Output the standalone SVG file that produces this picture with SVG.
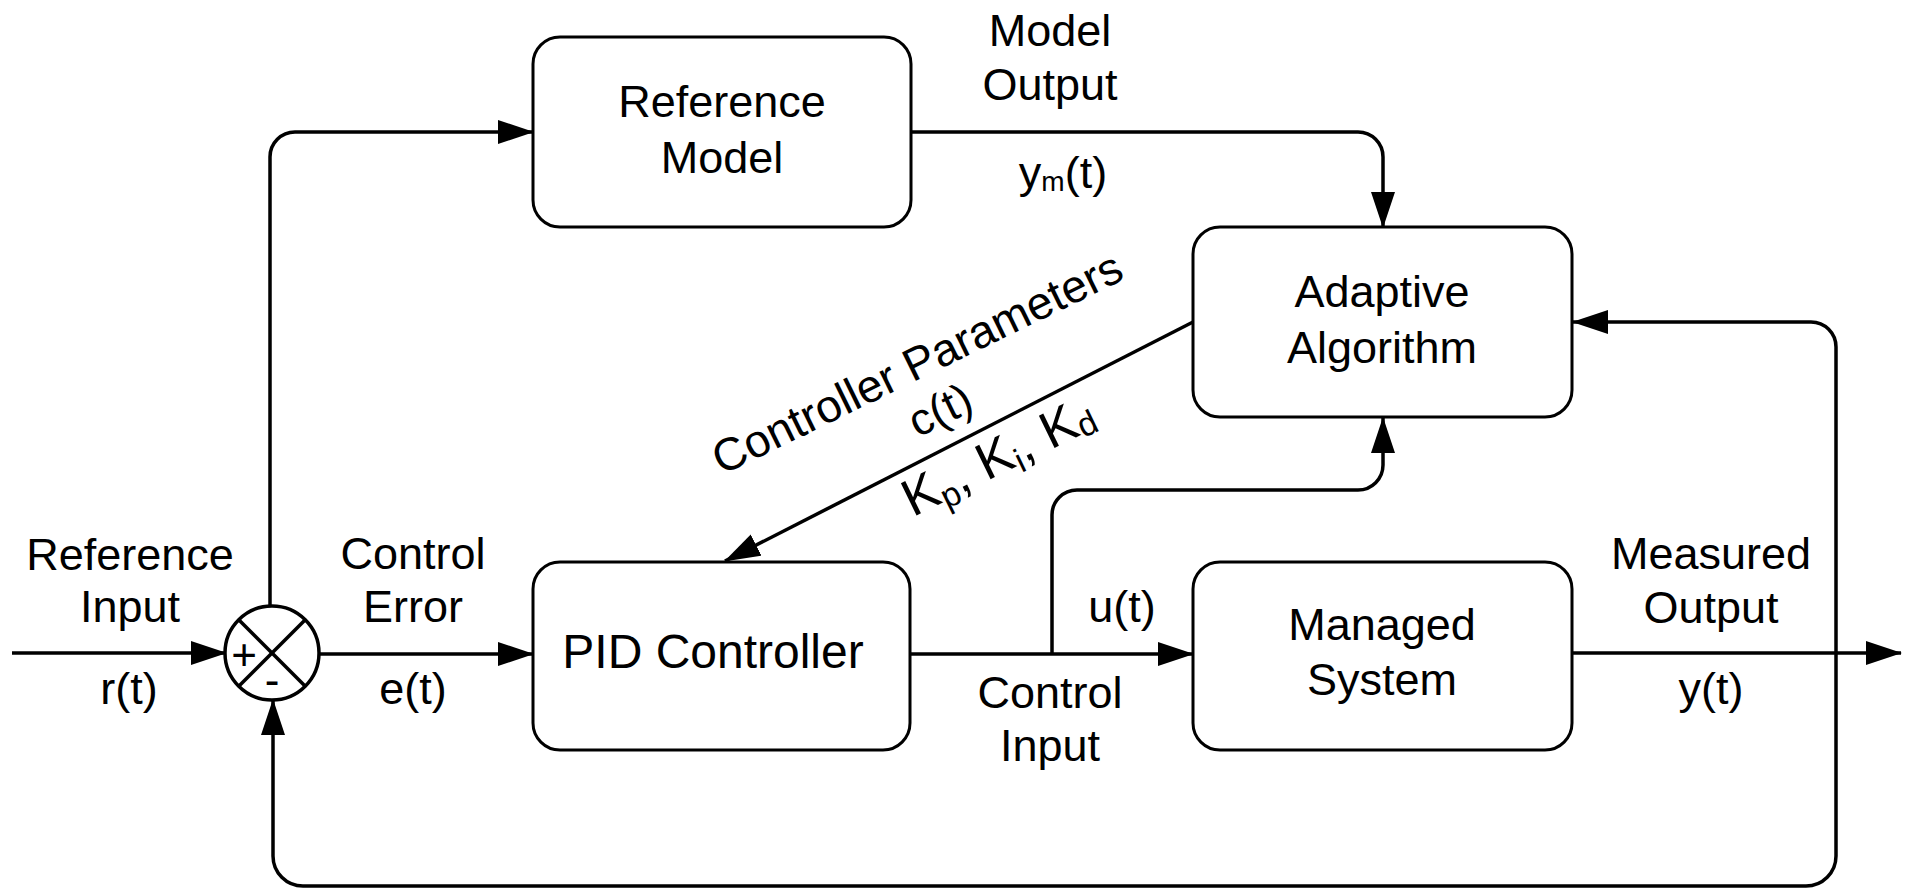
<svg xmlns="http://www.w3.org/2000/svg" width="1907" height="890" viewBox="0 0 1907 890">
<defs>
<marker id="arr" markerUnits="userSpaceOnUse" markerWidth="36" markerHeight="24" viewBox="0 0 36 24" refX="35" refY="12" orient="auto">
<path d="M0,0 L36,12 L0,24 z" fill="#000"/>
</marker>
<style>
.box{fill:#fff;stroke:#000;stroke-width:3}
.ln{fill:none;stroke:#000;stroke-width:3.5}
.lbl{font-family:"Liberation Sans",Arial,sans-serif;font-size:45px;fill:#000;text-anchor:middle}
.sgn{font-family:"Liberation Sans",Arial,sans-serif;font-size:44px;fill:#000;text-anchor:middle}
</style>
</defs>
<rect width="1907" height="890" fill="#fff"/>

<g id="connectors">
<path class="ln" d="M12,653 H226" stroke-width="4" marker-end="url(#arr)"/>
<path class="ln" d="M270,606 V157 A25,25 0 0 1 295,132 H533" marker-end="url(#arr)"/>
<path class="ln" d="M319,654 H533" marker-end="url(#arr)"/>
<path class="ln" d="M910,654 H1193" marker-end="url(#arr)"/>
<path class="ln" d="M1052,654 V515 A25,25 0 0 1 1077,490 H1358 A25,25 0 0 0 1383,465 V418" marker-end="url(#arr)"/>
<path class="ln" d="M911,132 H1358 A25,25 0 0 1 1383,157 V227" marker-end="url(#arr)"/>
<path class="ln" d="M1193,322 L725,561" marker-end="url(#arr)"/>
<path class="ln" d="M1572,653 H1901" stroke-width="3" marker-end="url(#arr)"/>
<path class="ln" d="M1836,653 V347 A25,25 0 0 0 1811,322 H1573" stroke-width="3" marker-end="url(#arr)"/>
<path class="ln" d="M1836,653 V856 A30,30 0 0 1 1806,886 H303 A30,30 0 0 1 273,856 V700" stroke-width="3" marker-end="url(#arr)"/>
</g>

<g id="sum">
<circle cx="272" cy="653" r="47" fill="#fff" stroke="#000" stroke-width="3.5"/>
<line x1="239" y1="620" x2="305" y2="686" stroke="#000" stroke-width="3.5"/>
<line x1="305" y1="620" x2="239" y2="686" stroke="#000" stroke-width="3.5"/>
<text class="sgn" x="244" y="670">+</text>
<text class="sgn" x="272" y="695">-</text>
</g>

<g id="reference-model">
<rect class="box" x="533" y="37" width="378" height="190" rx="27"/>
<text class="lbl" x="722" y="117">Reference</text>
<text class="lbl" x="722" y="173">Model</text>
</g>

<g id="adaptive-algorithm">
<rect class="box" x="1193" y="227" width="379" height="190" rx="27"/>
<text class="lbl" x="1382" y="307">Adaptive</text>
<text class="lbl" x="1382" y="363">Algorithm</text>
</g>

<g id="pid-controller">
<rect class="box" x="533" y="562" width="377" height="188" rx="27"/>
<text class="lbl" x="713" y="668" style="font-size:48px">PID Controller</text>
</g>

<g id="managed-system">
<rect class="box" x="1193" y="562" width="379" height="188" rx="27"/>
<text class="lbl" x="1382" y="640">Managed</text>
<text class="lbl" x="1382" y="695">System</text>
</g>

<g id="labels">
<text class="lbl" x="130" y="570">Reference</text>
<text class="lbl" x="130" y="622">Input</text>
<text class="lbl" x="129" y="704">r(t)</text>
<text class="lbl" x="413" y="569">Control</text>
<text class="lbl" x="413" y="622">Error</text>
<text class="lbl" x="413" y="704">e(t)</text>
<text class="lbl" x="1050" y="46">Model</text>
<text class="lbl" x="1050" y="100">Output</text>
<text class="lbl" x="1063" y="188">y<tspan style="font-size:28px" dy="3">m</tspan><tspan dy="-3">(t)</tspan></text>
<text class="lbl" x="1122" y="622">u(t)</text>
<text class="lbl" x="1050" y="708">Control</text>
<text class="lbl" x="1050" y="761">Input</text>
<text class="lbl" x="1711" y="569">Measured</text>
<text class="lbl" x="1711" y="623">Output</text>
<text class="lbl" x="1711" y="704">y(t)</text>
<g transform="translate(924,377) rotate(-26)">
<text class="lbl" x="0" y="0" style="font-size:46px">Controller Parameters</text>
<text class="lbl" x="0" y="52">c(t)</text>
<text class="lbl" x="32" y="121" style="font-size:52px">K<tspan style="font-size:34px" dy="8">p</tspan><tspan dy="-8">, K</tspan><tspan style="font-size:34px" dy="8">i</tspan><tspan dy="-8">, K</tspan><tspan style="font-size:34px" dy="4">d</tspan></text>
</g>
</g>
</svg>
